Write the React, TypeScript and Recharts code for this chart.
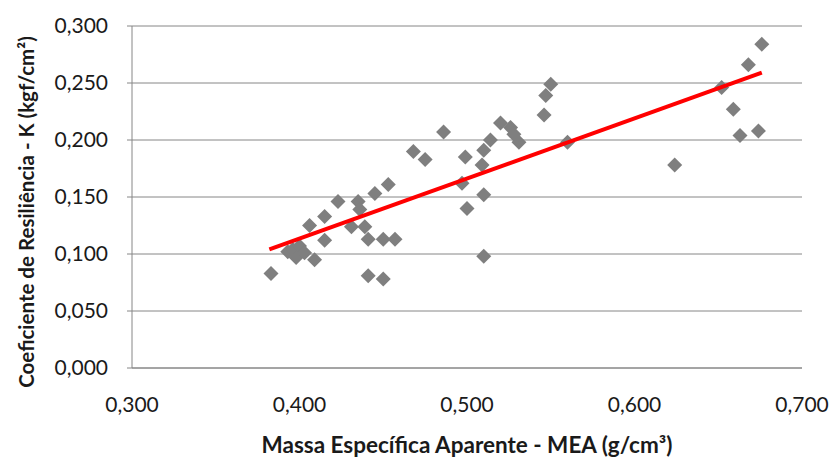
import { CartesianGrid, Label, Scatter, ScatterChart, XAxis, YAxis } from "recharts";

const mea = [
  0.383, 0.393, 0.396, 0.4, 0.398, 0.403, 0.406, 0.409, 0.415, 0.415, 0.423, 0.431,
  0.435, 0.436, 0.439, 0.441, 0.441, 0.445, 0.45, 0.45, 0.453, 0.457, 0.468, 0.475,
  0.486, 0.497, 0.499, 0.5, 0.509, 0.51, 0.514, 0.51, 0.51, 0.52, 0.526, 0.528,
  0.531, 0.546, 0.547, 0.55, 0.56, 0.624, 0.652, 0.659, 0.663, 0.668, 0.674, 0.676,
];
const resil = [
  0.083, 0.102, 0.104, 0.107, 0.097, 0.101, 0.125, 0.095, 0.112, 0.133, 0.146, 0.124,
  0.146, 0.139, 0.124, 0.113, 0.081, 0.153, 0.078, 0.113, 0.161, 0.113, 0.19, 0.183,
  0.207, 0.162, 0.185, 0.14, 0.178, 0.191, 0.2, 0.152, 0.098, 0.215, 0.211, 0.205,
  0.198, 0.222, 0.239, 0.249, 0.198, 0.178, 0.246, 0.227, 0.204, 0.266, 0.208, 0.284,
];
const trendX = [0.382, 0.676];
const trendY = [0.104, 0.259];
const xTicks = [0.3, 0.4, 0.5, 0.6, 0.7];
const yTicks = [0, 0.05, 0.1, 0.15, 0.2, 0.25, 0.3];

const points = mea.map((x, i) => ({ x, y: resil[i] }));
const trend = trendX.map((x, i) => ({ x, y: trendY[i] }));

const FONT = "Lato, 'Open Sans', sans-serif";
const GRID = "#868686";
const fmt = (v: number) => v.toFixed(3).replace(".", ",");

const Diamond = (p: any) => {
  const { cx, cy } = p;
  const r = 7.5;
  return (
    <polygon
      points={`${cx},${cy - r} ${cx + r},${cy} ${cx},${cy + r} ${cx - r},${cy}`}
      fill="#7f7f7f"
    />
  );
};

export default function App() {
  return (
    <div style={{ position: "absolute", left: 0, top: 0, width: 832, height: 458, background: "#fff" }}>
      <ScatterChart width={832} height={458} margin={{ top: 26, right: 30, bottom: 0, left: 0 }}>
        <CartesianGrid vertical={false} stroke={GRID} />
        <XAxis
          type="number"
          dataKey="x"
          domain={[0.3, 0.7]}
          ticks={xTicks}
          tickFormatter={fmt}
          height={90}
          stroke={GRID}
          tickLine={false}
          tickSize={0}
          tickMargin={29}
          tick={{ fill: "#1a1a1a", fontSize: 21, fontFamily: FONT }}
        >
          <Label
            content={() => (
              <text x={467} y={444} textAnchor="middle" dominantBaseline="central"
                fontFamily={FONT} fontWeight="bold" fontSize={22.5} fill="#1a1a1a">
                Massa Específica Aparente - MEA (g/cm³)
              </text>
            )}
          />
        </XAxis>
        <YAxis
          type="number"
          dataKey="y"
          domain={[0, 0.3]}
          ticks={yTicks}
          tickFormatter={fmt}
          width={132}
          stroke={GRID}
          tickSize={5}
          tickMargin={19}
          tick={{ fill: "#1a1a1a", fontSize: 21, fontFamily: FONT }}
        >
          <Label
            content={() => (
              <text x={26} y={212} transform="rotate(-90 26 212)" textAnchor="middle" dominantBaseline="central"
                fontFamily={FONT} fontWeight="bold" fontSize={20.5} fill="#1a1a1a">
                Coeficiente de Resiliência - K (kgf/cm²)
              </text>
            )}
          />
        </YAxis>
        <Scatter data={points} shape={Diamond} isAnimationActive={false} />
        <Scatter
          data={trend}
          line={{ stroke: "#ff0000", strokeWidth: 4 }}
          shape={() => <g />}
          isAnimationActive={false}
        />
      </ScatterChart>
    </div>
  );
}
